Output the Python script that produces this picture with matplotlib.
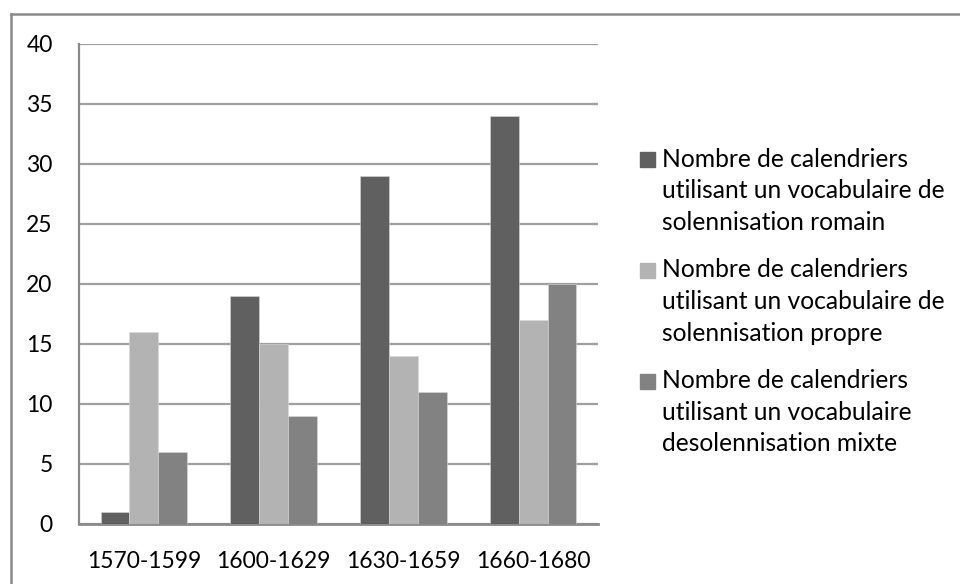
import matplotlib.pyplot as plt
import matplotlib.lines as mlines
import matplotlib.patches as mpatches
import numpy as np

periods = ['1570-1599', '1600-1629', '1630-1659', '1660-1680']
romain = [1, 19, 29, 34]
propre = [16, 15, 14, 17]
mixte = [6, 9, 11, 20]
series_labels = [
    ['Nombre de calendriers', 'utilisant un vocabulaire de', 'solennisation romain'],
    ['Nombre de calendriers', 'utilisant un vocabulaire de', 'solennisation propre'],
    ['Nombre de calendriers', 'utilisant un vocabulaire', 'desolennisation mixte'],
]
colors = ['#606060', '#b3b3b3', '#828282']

plt.rcParams['font.family'] = ['Lato', 'DejaVu Sans']

W, H = 960, 584
fig = plt.figure(figsize=(W / 100, H / 100), dpi=100)
fig.patch.set_facecolor('white')
ax = fig.add_axes([79 / W, 1 - 523.5 / H, (598 - 79) / W, (523.5 - 43.5) / H])

x = np.arange(len(periods))
width = 1 / 4.5
for i, vals in enumerate([romain, propre, mixte]):
    ax.bar(x + (i - 1) * width, vals, width, color=colors[i],
           edgecolor='#d8d8d8', linewidth=0.4, zorder=3)

ax.set_xlim(-0.5, len(periods) - 0.5)
ax.set_ylim(0, 40)
ax.set_yticks(range(0, 41, 5))
ax.set_xticks(x)
ax.set_xticklabels(periods)
ax.tick_params(axis='y', length=0, pad=19, labelsize=16.5, colors='black')
ax.tick_params(axis='x', length=0, pad=19.5, labelsize=16.5, colors='black')
ax.yaxis.grid(True, color='#a0a0a0', linewidth=1.6, zorder=0)
ax.set_axisbelow(True)
ax.spines[['top', 'right']].set_visible(False)
ax.spines['left'].set_color('#8a8a8a')
ax.spines['bottom'].set_color('#8a8a8a')
ax.spines['left'].set_linewidth(1.6)
ax.spines['bottom'].set_linewidth(2)

# legend drawn by hand: square marker beside the first line of each label
for k, lines in enumerate(series_labels):
    base = 166.7 + k * 110.7
    fig.patches.append(mpatches.Rectangle((640 / W, 1 - (base + 0.5) / H), 15 / W, 15 / H,
                                          transform=fig.transFigure, color=colors[k]))
    for j, line in enumerate(lines):
        fig.text(662 / W, 1 - (base + j * 31.6) / H, line, fontsize=17.7,
                 ha='left', va='baseline', color='black')

# outer chart frame (top and left edges)
fig.add_artist(mlines.Line2D([11 / W, 1], [1 - 14 / H, 1 - 14 / H], color='#8a8a8a', linewidth=1.8))
fig.add_artist(mlines.Line2D([11 / W, 11 / W], [0, 1 - 14 / H], color='#8a8a8a', linewidth=1.8))

fig.savefig('out.png', dpi=100)
